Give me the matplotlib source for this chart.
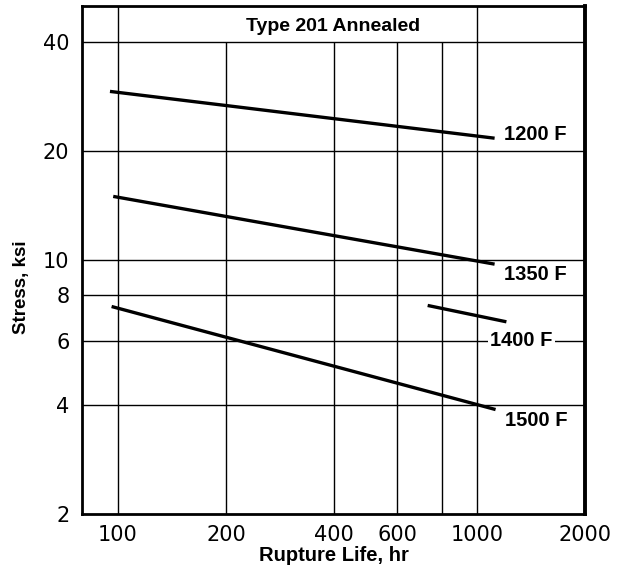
import matplotlib
matplotlib.use("Agg")
import matplotlib.pyplot as plt
from matplotlib.ticker import FixedLocator, NullLocator, FixedFormatter

# ---- data ----
x_1200 = [95, 1120]
y_1200 = [29.2, 21.7]
x_1350 = [97, 1120]
y_1350 = [15.0, 9.76]
x_1400 = [729, 1208]
y_1400 = [7.51, 6.77]
x_1500 = [96, 1127]
y_1500 = [7.46, 3.88]

curve_labels = ["1200 F", "1350 F", "1400 F", "1500 F"]
label_x = [1190, 1190, 1090, 1197]
label_y = [21.4, 8.85, 5.8, 3.5]

x_ticks = [100, 200, 400, 600, 1000, 2000]
x_ticklabels = ["100", "200", "400", "600", "1000", "2000"]
y_ticks = [2, 4, 6, 8, 10, 20, 40]
y_ticklabels = ["2", "4", "6", "8", "10", "20", "40"]
grid_x_full = [100, 1000]
grid_x_part = [200, 400, 600, 800]
grid_y = [4, 6, 8, 10, 20, 40]

title = "Type 201 Annealed"
xlabel = "Rupture Life, hr"
ylabel = "Stress, ksi"

# ---- figure ----
fig = plt.figure(figsize=(6.31, 5.69), dpi=100)
ax = fig.add_axes([82/631, 1 - 514/569, (585-82)/631, (514-6)/569])
ax.set_xscale("log")
ax.set_yscale("log")
ax.set_xlim(79.4, 2000)
ax.set_ylim(2, 50.2)

grid_kw = dict(color="black", lw=1.0, zorder=1)
ax.vlines(grid_x_full, 2, 50.2, **grid_kw)
ax.vlines(grid_x_part, 2, 40, **grid_kw)
ax.hlines(grid_y, 79.4, 2000, **grid_kw)

line_kw = dict(color="black", lw=2.4, solid_capstyle="butt", zorder=3)
ax.plot(x_1200, y_1200, **line_kw)
ax.plot(x_1350, y_1350, **line_kw)
ax.plot(x_1400, y_1400, **line_kw)
ax.plot(x_1500, y_1500, **line_kw)

bold = dict(family="Liberation Sans", weight="bold", fontsize=14.5)
for lab, lx, ly in zip(curve_labels, label_x, label_y):
    ax.text(lx, ly, lab, ha="left", va="baseline", zorder=4,
            bbox=dict(facecolor="white", edgecolor="none", pad=1.5), **bold)

ax.text(0.5, 0.951, title, transform=ax.transAxes, ha="center",
        va="baseline", family="Liberation Sans", weight="bold", fontsize=14)

ax.xaxis.set_major_locator(FixedLocator(x_ticks))
ax.xaxis.set_major_formatter(FixedFormatter(x_ticklabels))
ax.xaxis.set_minor_locator(NullLocator())
ax.yaxis.set_major_locator(FixedLocator(y_ticks))
ax.yaxis.set_major_formatter(FixedFormatter(y_ticklabels))
ax.yaxis.set_minor_locator(NullLocator())
ax.tick_params(axis="both", length=0, labelsize=15)
ax.tick_params(axis="x", pad=8)
ax.tick_params(axis="y", pad=9)
for t in ax.get_xticklabels() + ax.get_yticklabels():
    t.set_family("DejaVu Sans")

ax.set_xlabel(xlabel, va="center", **bold)
ax.xaxis.set_label_coords(0.5, -0.081)
ax.set_ylabel(ylabel, va="center", ha="center", family="Liberation Sans",
              weight="bold", fontsize=13.5)
ax.yaxis.set_label_coords(-0.121, 0.447)

for s in ["left", "bottom", "top"]:
    ax.spines[s].set_linewidth(2.0)
ax.spines["right"].set_linewidth(2.8)

fig.savefig("out.png", dpi=100)
